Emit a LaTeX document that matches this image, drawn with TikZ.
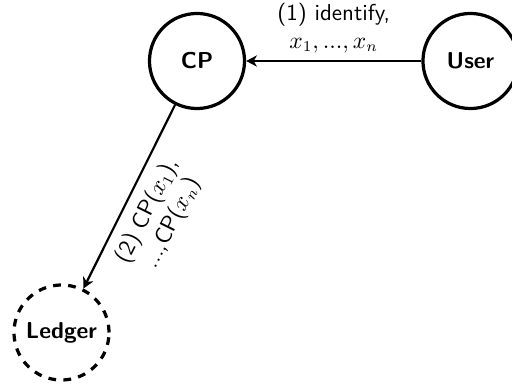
\documentclass[tikz,border=0pt]{standalone}
\usetikzlibrary{arrows.meta}
\renewcommand{\familydefault}{\sfdefault}
\begin{document}
\begin{tikzpicture}[x=0.465pt, y=-0.465pt,
  every node/.style={font=\fontsize{10.7}{12.8}\selectfont\sffamily},
  party/.style={circle, draw, line width=1.5pt, minimum size=44.2pt,
    inner sep=0pt, font=\fontsize{10.7}{12.8}\selectfont\sffamily\bfseries},
  store/.style={party, dash pattern=on 3.6pt off 3.4pt},
  msg/.style={-{Stealth[length=5pt, width=5.2pt, inset=1.5pt]}, line width=1pt},
  lbl/.style={align=center}]
  \useasboundingbox (0,0) rectangle (512,390);

  \node[party] (cp) at (197,61) {CP};
  \node[party] (user) at (470.5,61) {User};
  \node[store] (ledger) at (61.5,332.5) {Ledger};

  \draw[msg] (user) -- node[lbl, above] {(1) identify,\\ $x_1, ..., x_n$} (cp);
  \draw[msg] (cp) -- node[lbl, pos=0.52, below=1.5pt, sloped] {(2) CP($x_1$),\\ ...,CP($x_n$)} (ledger);
\end{tikzpicture}
\end{document}
